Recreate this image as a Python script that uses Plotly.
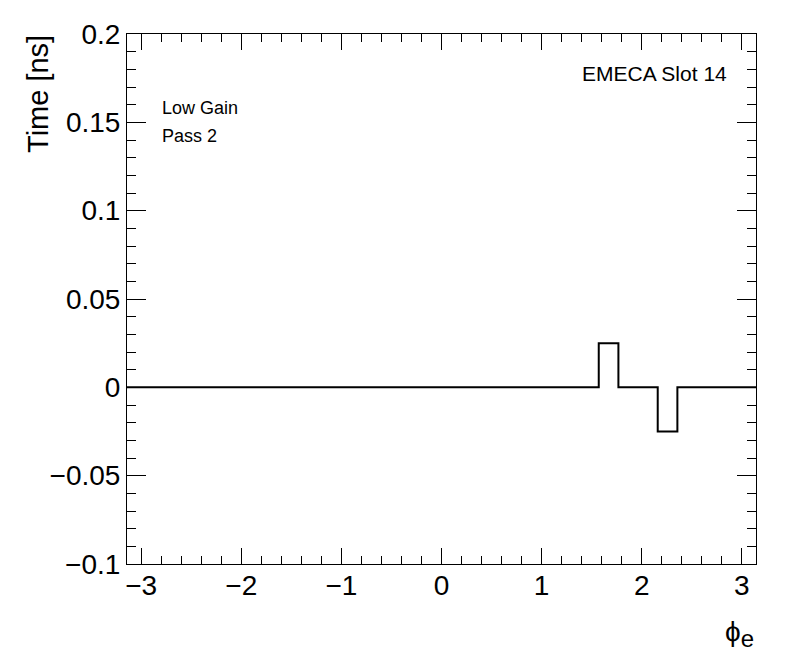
import numpy as np
import plotly.graph_objects as go

# Histogram: 32 bins in phi from -pi to pi
n_bins = 32
bin_values = [0.0] * 24 + [0.025, 0.0, 0.0, -0.025, 0.0, 0.0, 0.0, 0.0]
x_ticks = [-3, -2, -1, 0, 1, 2, 3]
x_ticklabels = ["\u22123", "\u22122", "\u22121", "0", "1", "2", "3"]
y_ticks = [-0.1, -0.05, 0, 0.05, 0.1, 0.15, 0.2]
y_ticklabels = ["\u22120.1", "\u22120.05", "0", "0.05", "0.1", "0.15", "0.2"]

edges = np.linspace(-np.pi, np.pi, n_bins + 1)
ys = list(bin_values) + [bin_values[-1]]

font = "Liberation Sans, Arial, Helvetica, sans-serif"

fig = go.Figure()
fig.add_trace(go.Scatter(
    x=edges, y=ys, mode="lines", line_shape="hv",
    line=dict(color="black", width=2), showlegend=False, hoverinfo="skip",
))

axis_common = dict(
    showgrid=False, zeroline=False, showline=True, linecolor="black", linewidth=1,
    ticks="inside", tickcolor="black", tickwidth=1, mirror="allticks",
    tickfont=dict(family=font, size=28, color="black"),
)

fig.update_xaxes(
    range=[-np.pi, np.pi], tickmode="array", tickvals=x_ticks, ticktext=x_ticklabels,
    ticklen=16, ticklabelstandoff=-4,
    minor=dict(dtick=0.2, tick0=0, ticklen=8, ticks="inside", tickcolor="black", tickwidth=1),
    **axis_common,
)
fig.update_yaxes(
    range=[-0.1, 0.2], tickmode="array", tickvals=y_ticks, ticktext=y_ticklabels,
    ticklen=19,
    minor=dict(dtick=0.01, tick0=0, ticklen=9, ticks="inside", tickcolor="black", tickwidth=1),
    **axis_common,
)

# page body has an 8px margin, so the figure is offset by (8, 8)
fig.update_layout(
    width=796, height=672,
    margin=dict(l=119, r=48, t=26, b=116),
    paper_bgcolor="white", plot_bgcolor="white",
    annotations=[
        dict(text="Time [ns]", xref="paper", yref="paper",
             x=(38 - 127) / 629, y=1.0 + 1 / 530, xanchor="center", yanchor="top", textangle=-90,
             showarrow=False, font=dict(family=font, size=29, color="black")),
        dict(text="\u03d5<sub><span style='font-size:24px'>e</span></sub>", xref="paper", yref="paper",
             x=1.0, y=-0.094, xanchor="right", yanchor="top",
             showarrow=False, font=dict(family=font, size=28, color="black")),
        dict(text="EMECA Slot 14", xref="paper", yref="paper",
             x=(729 - 127) / 629, y=1 - (73 - 34) / 530, xanchor="right", yanchor="middle",
             showarrow=False, font=dict(family=font, size=21, color="black")),
        dict(text="Low Gain", xref="paper", yref="paper",
             x=(160 - 127) / 629, y=1 - (108 - 34) / 530, xanchor="left", yanchor="middle",
             showarrow=False, font=dict(family=font, size=18, color="black")),
        dict(text="Pass 2", xref="paper", yref="paper",
             x=(160 - 127) / 629, y=1 - (136 - 34) / 530, xanchor="left", yanchor="middle",
             showarrow=False, font=dict(family=font, size=18, color="black")),
    ],
)

fig.write_html("out.html")
